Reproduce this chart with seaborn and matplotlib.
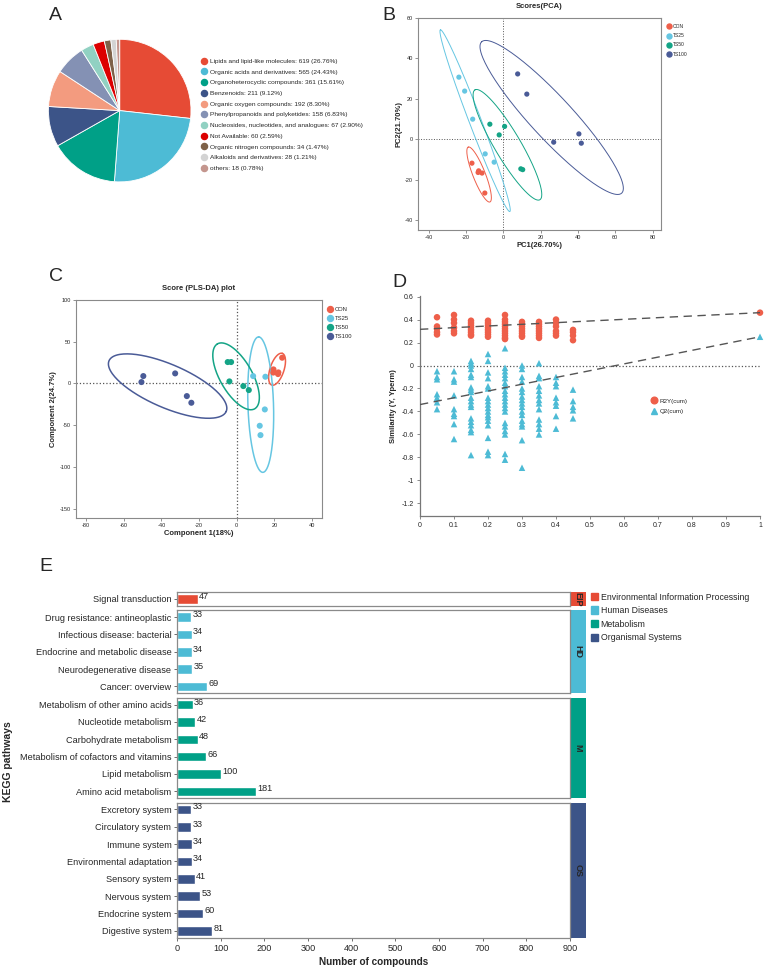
import numpy as np
import pandas as pd
import seaborn as sns
import matplotlib.pyplot as plt
from matplotlib.lines import Line2D
from matplotlib.patches import Patch, Rectangle

sns.set_style("ticks")
plt.rcParams['font.family'] = ['Liberation Sans', 'DejaVu Sans']
plt.rcParams['axes.unicode_minus'] = False

# ---- A: compound classes (pie) ----
class_names = ['Lipids and lipid-like molecules', 'Organic acids and derivatives',
               'Organoheterocyclic compounds', 'Benzenoids', 'Organic oxygen compounds',
               'Phenylpropanoids and polyketides', 'Nucleosides, nucleotides, and analogues',
               'Not Available', 'Organic nitrogen compounds', 'Alkaloids and derivatives', 'others']
class_counts = [619, 565, 361, 211, 192, 158, 67, 60, 34, 28, 18]
class_colors = ['#E64B35', '#4DBBD5', '#00A087', '#3C5488', '#F39B7F', '#8491B4',
                '#91D1C2', '#DC0000', '#7E6148', '#D3D3D3', '#C4968E']

# ---- groups ----
groups = ['CON', 'TS25', 'TS50', 'TS100']
group_colors = ['#EE5F4A', '#66C6E2', '#14A486', '#4A5B97']
sample_group = ['CON'] * 5 + ['TS25'] * 5 + ['TS50'] * 5 + ['TS100'] * 5

# ---- B: PCA scores ----
pca_pc1 = [-16.8, -13.2, -11.4, -13.5, -9.9, -23.8, -20.7, -16.4, -9.7, -4.9,
           -7.2, -2.2, 0.7, 9.4, 10.4, 7.7, 12.6, 27.0, 40.5, 41.8]
pca_pc2 = [-11.9, -15.7, -16.8, -16.5, -26.7, 30.7, 23.8, 9.9, -7.3, -11.4,
           7.4, 2.1, 6.3, -14.7, -15.1, 32.3, 22.3, -1.5, 2.6, -2.0]
# ellipse semi-diameters (data units)
pca_ell_u = [(-5.8, 13.6), (-18.6, 45.0), (-17.4, 27.2), (-37.5, 37.5)]
pca_ell_v = [(3.1, 1.1), (3.0, 1.1), (6.0, 3.3), (8.3, 7.0)]

# ---- C: PLS-DA scores ----
pls_c1 = [24.1, 19.5, 21.9, 22.1, 19.4, 8.7, 15.2, 14.9, 12.2, 12.6,
          -4.8, -3.0, -3.9, 3.5, 6.4, -49.6, -50.6, -32.7, -26.5, -24.1]
pls_c2 = [30.8, 16.8, 11.2, 13.2, 13.0, 8.8, 8.0, -31.2, -50.8, -62.0,
          25.6, 25.6, 2.4, -3.2, -8.0, 8.8, 1.6, 12.0, -15.2, -23.2]
pls_ell_u = [(2.8, 19.0), (-1.1, 81.2), (-9.9, 38.9), (31.1, -30.4)]
pls_ell_v = [(3.5, -2.7), (6.8, 0.0), (7.4, 9.7), (4.6, 23.8)]

# ---- D: permutation test ----
perm_r2y = {
    0.05: [0.42, 0.34, 0.32, 0.29, 0.27],
    0.10: [0.44, 0.40, 0.37, 0.33, 0.30, 0.28],
    0.15: [0.39, 0.37, 0.35, 0.33, 0.31, 0.29, 0.27, 0.26],
    0.20: [0.39, 0.37, 0.35, 0.33, 0.31, 0.29, 0.27, 0.25],
    0.25: [0.44, 0.40, 0.38, 0.36, 0.34, 0.32, 0.30, 0.28, 0.26, 0.24, 0.23],
    0.30: [0.38, 0.36, 0.34, 0.32, 0.30, 0.28, 0.26, 0.25],
    0.35: [0.38, 0.36, 0.34, 0.32, 0.30, 0.28, 0.26, 0.24],
    0.40: [0.40, 0.37, 0.34, 0.30, 0.28, 0.26],
    0.45: [0.31, 0.29, 0.26, 0.22],
}
perm_q2 = {
    0.05: [-0.05, -0.10, -0.12, -0.25, -0.28, -0.32, -0.38],
    0.10: [-0.05, -0.12, -0.14, -0.26, -0.38, -0.42, -0.44, -0.51, -0.64],
    0.15: [0.04, 0.02, 0.0, -0.03, -0.08, -0.10, -0.19, -0.21, -0.23, -0.28, -0.31,
           -0.34, -0.36, -0.46, -0.49, -0.52, -0.56, -0.58, -0.78],
    0.20: [0.10, 0.04, -0.06, -0.11, -0.18, -0.20, -0.28, -0.31, -0.34, -0.37, -0.40,
           -0.43, -0.45, -0.48, -0.52, -0.63, -0.75, -0.78],
    0.25: [0.15, -0.02, -0.05, -0.08, -0.11, -0.15, -0.18, -0.22, -0.25, -0.28, -0.31,
           -0.34, -0.37, -0.40, -0.50, -0.53, -0.57, -0.60, -0.77, -0.82],
    0.30: [0.0, -0.03, -0.10, -0.14, -0.20, -0.23, -0.27, -0.30, -0.33, -0.36, -0.40,
           -0.43, -0.48, -0.51, -0.53, -0.65, -0.89],
    0.35: [0.02, -0.09, -0.11, -0.18, -0.22, -0.26, -0.30, -0.33, -0.38, -0.47, -0.51,
           -0.55, -0.60],
    0.40: [-0.10, -0.15, -0.18, -0.28, -0.32, -0.35, -0.44, -0.55],
    0.45: [-0.21, -0.31, -0.36, -0.39, -0.46],
}
orig_r2y, orig_q2 = 0.46, 0.25
r2y_intercept, q2_intercept = 0.315, -0.34

# ---- E: KEGG pathways ----
kegg_groups = ['EIP', 'HD', 'M', 'OS']
kegg_group_names = ['Environmental Information Processing', 'Human Diseases',
                    'Metabolism', 'Organismal Systems']
kegg_colors = ['#E64B35', '#4DBBD5', '#00A087', '#3C5488']
kegg_pathway = ['Signal transduction',
                'Drug resistance: antineoplastic', 'Infectious disease: bacterial',
                'Endocrine and metabolic disease', 'Neurodegenerative disease', 'Cancer: overview',
                'Metabolism of other amino acids', 'Nucleotide metabolism', 'Carbohydrate metabolism',
                'Metabolism of cofactors and vitamins', 'Lipid metabolism', 'Amino acid metabolism',
                'Excretory system', 'Circulatory system', 'Immune system', 'Environmental adaptation',
                'Sensory system', 'Nervous system', 'Endocrine system', 'Digestive system']
kegg_count = [47, 33, 34, 34, 35, 69, 36, 42, 48, 66, 100, 181,
              33, 33, 34, 34, 41, 53, 60, 81]
kegg_class = ['EIP'] + ['HD'] * 5 + ['M'] * 6 + ['OS'] * 8

W, H = 767, 969


def box(l, t, r, b):
    return [l / W, 1 - b / H, (r - l) / W, (b - t) / H]


def ellipse(ax, cx, cy, u, v, color, lw):
    t = np.linspace(0, 2 * np.pi, 200)
    ax.plot(cx + u[0] * np.cos(t) + v[0] * np.sin(t),
            cy + u[1] * np.cos(t) + v[1] * np.sin(t), color=color, lw=lw)


fig = plt.figure(figsize=(W / 100, H / 100), dpi=100)

# ---------- A ----------
ax = fig.add_axes(box(48.4, 39.3, 191, 181.9))
ax.pie(class_counts, colors=class_colors, startangle=90, counterclock=False,
       wedgeprops=dict(edgecolor='white', linewidth=0.6))
ax.set_xlim(-1, 1)
ax.set_ylim(-1, 1)
total = sum(class_counts)
handles = [Line2D([], [], marker='o', ls='', color=c, markersize=4.4) for c in class_colors]
labels = [f'{n}: {c} ({c / total * 100:.2f}%)' for n, c in zip(class_names, class_counts)]
fig.legend(handles, labels, loc='upper left', bbox_to_anchor=(201 / W, 1 - 58.5 / H),
           frameon=False, fontsize=4.65, handlelength=0.95, handletextpad=0.45,
           labelspacing=0.8, borderpad=0, borderaxespad=0)

# ---------- B ----------
pca_df = pd.DataFrame({'PC1': pca_pc1, 'PC2': pca_pc2, 'group': sample_group})
ax = fig.add_axes(box(418, 18, 661, 230))
ax.axhline(0, color='#555555', ls=':', lw=0.7)
ax.axvline(0, color='#555555', ls=':', lw=0.7)
sns.scatterplot(data=pca_df, x='PC1', y='PC2', hue='group', hue_order=groups,
                palette=group_colors, s=14, linewidth=0, legend=False, ax=ax, zorder=3)
for g, col, u, v in zip(groups, group_colors, pca_ell_u, pca_ell_v):
    sub = pca_df[pca_df.group == g]
    ellipse(ax, sub.PC1.mean(), sub.PC2.mean(), u, v, col, 0.7)
ax.set_xlim(-45.7, 84.5)
ax.set_ylim(-45, 60)
ax.set_xticks(range(-40, 81, 20))
ax.set_yticks(range(-40, 61, 20))
ax.tick_params(labelsize=4, length=2, width=0.5, pad=1.5, color='#666666')
for s in ax.spines.values():
    s.set_color('#8a8a8a')
    s.set_linewidth(0.8)
ax.set_title('Scores(PCA)', fontsize=5.5, fontweight='bold', pad=7)
ax.set_xlabel('PC1(26.70%)', fontsize=5.5, fontweight='bold', labelpad=1.5)
ax.set_ylabel('PC2(21.70%)', fontsize=5.5, fontweight='bold', labelpad=2)
h = [Line2D([], [], marker='o', ls='', color=c, markersize=3.6) for c in group_colors]
fig.legend(h, groups, loc='upper left', bbox_to_anchor=(667 / W, 1 - 24 / H),
           frameon=False, fontsize=3.6, handlelength=0.8, handletextpad=0.3,
           labelspacing=0.85, borderpad=0, borderaxespad=0)

# ---------- C ----------
pls_df = pd.DataFrame({'C1': pls_c1, 'C2': pls_c2, 'group': sample_group})
ax = fig.add_axes(box(75.7, 300, 321.7, 517.7))
ax.axhline(0, color='#555555', ls=':', lw=0.9)
ax.axvline(0, color='#555555', ls=':', lw=0.9)
sns.scatterplot(data=pls_df, x='C1', y='C2', hue='group', hue_order=groups,
                palette=group_colors, s=19, linewidth=0, legend=False, ax=ax, zorder=3)
for g, col, u, v in zip(groups, group_colors, pls_ell_u, pls_ell_v):
    sub = pls_df[pls_df.group == g]
    ellipse(ax, sub.C1.mean(), sub.C2.mean(), u, v, col, 1.1)
ax.set_xlim(-85.5, 45.1)
ax.set_ylim(-161, 100)
ax.set_xticks(range(-80, 41, 20))
ax.set_yticks(range(-150, 101, 50))
ax.tick_params(labelsize=4, length=2, width=0.5, pad=1.5, color='#666666')
for s in ax.spines.values():
    s.set_color('#8a8a8a')
    s.set_linewidth(0.8)
ax.set_title('Score (PLS-DA) plot', fontsize=5.5, fontweight='bold', pad=7)
ax.set_xlabel('Component 1(18%)', fontsize=5.5, fontweight='bold', labelpad=1.5)
ax.set_ylabel('Component 2(24.7%)', fontsize=5.5, fontweight='bold', labelpad=2)
h = [Line2D([], [], marker='o', ls='', color=c, markersize=4.3) for c in group_colors]
fig.legend(h, groups, loc='upper left', bbox_to_anchor=(328 / W, 1 - 307 / H),
           frameon=False, fontsize=4.2, handlelength=0.8, handletextpad=0.3,
           labelspacing=0.68, borderpad=0, borderaxespad=0)

# ---------- D ----------
rows = []
for x, vals in perm_r2y.items():
    rows += [(x, v, 'R2Y(cum)') for v in vals]
for x, vals in perm_q2.items():
    rows += [(x, v, 'Q2(cum)') for v in vals]
rows += [(1.0, orig_r2y, 'R2Y(cum)'), (1.0, orig_q2, 'Q2(cum)')]
perm_df = pd.DataFrame(rows, columns=['x', 'value', 'type'])
ax = fig.add_axes(box(420, 296, 760, 516))
ax.plot([0, 1], [0, 0], color='#555555', ls=':', lw=0.9)
sns.scatterplot(data=perm_df, x='x', y='value', hue='type', style='type',
                hue_order=['R2Y(cum)', 'Q2(cum)'], palette=['#EE5F4A', '#4DBBD5'],
                markers={'R2Y(cum)': 'o', 'Q2(cum)': '^'}, s=22, linewidth=0,
                legend=False, ax=ax, clip_on=False, zorder=3)
ax.plot([0, 1], [r2y_intercept, orig_r2y], color='#555555', ls=(0, (6, 4)), lw=1.0, zorder=4)
ax.plot([0, 1], [q2_intercept, orig_q2], color='#555555', ls=(0, (6, 4)), lw=1.0, zorder=4)
ax.set_xlim(0, 1)
ax.set_ylim(-1.31, 0.605)
ax.set_xticks(np.arange(0, 1.01, 0.1))
ax.set_yticks(np.arange(-1.2, 0.61, 0.2))
ax.xaxis.set_major_formatter(lambda v, p: f'{v:.1f}'.rstrip('0').rstrip('.') if abs(v) > 1e-9 else '0')
ax.yaxis.set_major_formatter(lambda v, p: f'{v:.1f}'.rstrip('0').rstrip('.') if abs(v) > 1e-9 else '0')
sns.despine(ax=ax)
for s in ax.spines.values():
    s.set_color('#777777')
    s.set_linewidth(0.9)
ax.tick_params(labelsize=5, length=2.5, width=0.6, pad=2, color='#777777')
ax.set_xlabel('')
ax.set_ylabel('Similarity (Y, Yperm)', fontsize=5.5, fontweight='bold', labelpad=3)
h = [Line2D([], [], marker='o', ls='', color='#EE5F4A', markersize=4.8),
     Line2D([], [], marker='^', ls='', color='#4DBBD5', markersize=4.8)]
ax.legend(h, ['R2Y(cum)', 'Q2(cum)'], loc='upper left', bbox_to_anchor=(0.68, 0.535),
          frameon=False, fontsize=4.5, handlelength=1.0, handletextpad=0.3,
          labelspacing=0.85, borderpad=0, borderaxespad=0)

# ---------- E ----------
kegg_df = pd.DataFrame({'pathway': kegg_pathway, 'count': kegg_count, 'cls': kegg_class})
sizes = [kegg_class.count(g) for g in kegg_groups]
gs = fig.add_gridspec(4, 1, left=177 / W, right=570 / W, top=1 - 592 / H, bottom=1 - 937.7 / H,
                      height_ratios=[n - 0.2 for n in sizes], hspace=0.052)
for i, (g, col) in enumerate(zip(kegg_groups, kegg_colors)):
    ax = fig.add_subplot(gs[i])
    sub = kegg_df[kegg_df.cls == g]
    sns.barplot(data=sub, x='count', y='pathway', color=col, width=0.55, orient='h',
                errorbar=None, saturation=1, ax=ax)
    for j, v in enumerate(sub['count']):
        ax.text(v + 3, j - 0.15, str(v), fontsize=6.6, va='center', ha='left')
    n = len(sub)
    ax.set_xlim(0, 900)
    ax.set_ylim(n - 1 + 0.4, -0.4)
    ax.set_ylabel('')
    ax.set_xlabel('')
    ax.set_xticks(range(0, 901, 100))
    for s in ax.spines.values():
        s.set_color('#8a8a8a')
        s.set_linewidth(0.9)
    ax.tick_params(axis='y', labelsize=6.6, length=2.5, width=0.6, pad=1.5, color='#555555')
    if i < 3:
        ax.tick_params(axis='x', bottom=False, labelbottom=False)
    else:
        ax.tick_params(axis='x', labelsize=6.6, length=2.5, width=0.6, pad=2, color='#555555')
        ax.set_xlabel('Number of compounds', fontsize=7.2, fontweight='bold', labelpad=3)
    ax.add_patch(Rectangle((1.0, 0), 16 / 393, 1, transform=ax.transAxes, color=col,
                           clip_on=False, lw=0))
    ax.text(1.0 + 8 / 393, 0.5, g, transform=ax.transAxes, rotation=270, fontsize=6.5,
            fontweight='bold', ha='center', va='center')

fig.text(8 / W, 1 - 762 / H, 'KEGG pathways', rotation=90, fontsize=7.5, fontweight='bold',
         ha='center', va='center')
h = [Patch(color=c) for c in kegg_colors]
fig.legend(h, kegg_group_names, loc='upper left', bbox_to_anchor=(591 / W, 1 - 592.5 / H),
           frameon=False, fontsize=6.3, handlelength=0.8, handleheight=0.9,
           handletextpad=0.3, labelspacing=0.52, borderpad=0, borderaxespad=0)

# panel letters
for letter, x, y in [('A', 49, 7), ('B', 382, 7), ('C', 49, 268), ('D', 392, 274), ('E', 39, 558)]:
    fig.text(x / W, 1 - y / H, letter, fontsize=14, ha='left', va='top')

fig.savefig('out.png', dpi=100)
